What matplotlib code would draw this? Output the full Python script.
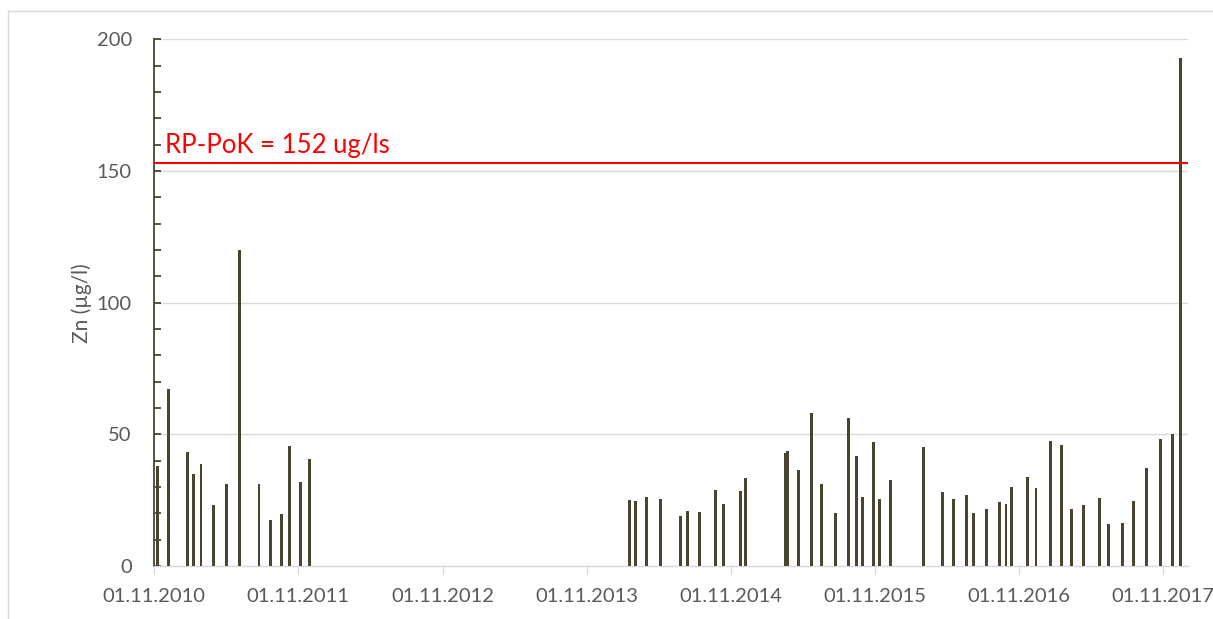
import numpy as np
import pandas as pd
import matplotlib
matplotlib.use('Agg')
import matplotlib.pyplot as plt
import matplotlib.dates as mdates
from matplotlib.lines import Line2D

plt.rcParams['font.family'] = ['Lato', 'DejaVu Sans']

# sampling dates and Zn concentrations (ug/l)
dates = [
    '2010-11-09', '2010-12-08', '2011-01-24', '2011-02-10', '2011-02-28',
    '2011-03-31', '2011-05-03', '2011-06-06', '2011-07-25', '2011-08-24',
    '2011-09-21', '2011-10-10', '2011-11-07', '2011-11-30',
    '2014-02-19', '2014-03-06', '2014-04-01', '2014-05-07', '2014-06-26',
    '2014-07-15', '2014-08-14', '2014-09-24', '2014-10-14', '2014-11-26',
    '2014-12-10', '2015-03-19', '2015-03-25', '2015-04-23', '2015-05-26',
    '2015-06-20', '2015-07-24', '2015-08-27', '2015-09-17', '2015-10-01',
    '2015-10-28', '2015-11-13', '2015-12-11', '2016-03-04', '2016-04-20',
    '2016-05-18', '2016-06-21', '2016-07-08', '2016-08-10', '2016-09-13',
    '2016-09-29', '2016-10-12', '2016-11-22', '2016-12-14', '2017-01-20',
    '2017-02-16', '2017-03-15', '2017-04-13', '2017-05-23', '2017-06-15',
    '2017-07-21', '2017-08-17', '2017-09-20', '2017-10-26', '2017-11-24',
    '2017-12-14',
]
zn = [
    37.9, 67.2, 43.1, 34.8, 38.9,
    23.2, 31.2, 120.0, 31.1, 17.5,
    19.8, 45.7, 31.9, 40.5,
    25.1, 24.7, 26.3, 25.5, 18.8,
    21.0, 20.5, 29.0, 23.5, 28.4,
    33.6, 42.9, 43.7, 36.5, 58.1,
    31.3, 20.2, 56.3, 41.8, 26.3,
    47.2, 25.5, 32.7, 45.2, 28.2,
    25.6, 27.0, 20.3, 21.8, 24.4,
    23.7, 30.1, 33.8, 29.7, 47.5,
    46.0, 21.7, 23.1, 25.8, 15.8,
    16.4, 24.5, 37.4, 48.2, 50.2,
    192.8,
]
limit = 153
limit_label = 'RP-PoK = 152 ug/ls'
y_label = 'Zn (µg/l)'

dates = pd.to_datetime(dates)

fig = plt.figure(figsize=(12.13, 6.19), dpi=100)
ax = fig.add_axes([0.127, 0.0856, 0.852, 0.851])

ax.bar(dates, zn, width=7.5, color='#4a4531', zorder=3)
ax.axhline(limit, color='#ff0000', lw=1.5, zorder=4)
ax.text(pd.Timestamp('2010-11-30'), limit + 3.9, limit_label, color='#ff0000',
        fontsize=18.5, va='baseline', ha='left')

ax.set_ylim(0, 200)
ax.set_xlim(pd.Timestamp('2010-11-01'), pd.Timestamp('2018-01-02'))
ax.set_yticks([0, 50, 100, 150, 200])
ax.set_yticks(np.arange(0, 201, 10), minor=True)
ax.xaxis.set_major_locator(mdates.YearLocator(month=11, day=1))
ax.xaxis.set_major_formatter(mdates.DateFormatter('%d.%m.%Y'))

ax.grid(axis='y', which='major', color='#d9d9d9', lw=1, zorder=0)
for s in ['top', 'right']:
    ax.spines[s].set_visible(False)
ax.spines['left'].set_color('#4a4531')
ax.spines['left'].set_linewidth(1.3)
ax.spines['bottom'].set_color('#d9d9d9')
ax.spines['bottom'].set_linewidth(1)

ax.tick_params(axis='y', which='both', direction='in', length=5,
               color='#4a4531', width=1.3, labelsize=14.5, labelcolor='#595959',
               pad=16)
ax.tick_params(axis='x', direction='out', length=6, color='#d9d9d9',
               labelsize=14.5, labelcolor='#595959', pad=10)
ax.set_ylabel(y_label, fontsize=15, color='#595959', labelpad=3)

# outer chart frame
fig.add_artist(Line2D([8 / 1213, 8 / 1213], [0, 1 - 11 / 619],
                      color='#d9d9d9', lw=1, transform=fig.transFigure))
fig.add_artist(Line2D([8 / 1213, 1], [1 - 11 / 619, 1 - 11 / 619],
                      color='#d9d9d9', lw=1, transform=fig.transFigure))

fig.savefig('out.png', dpi=100)
